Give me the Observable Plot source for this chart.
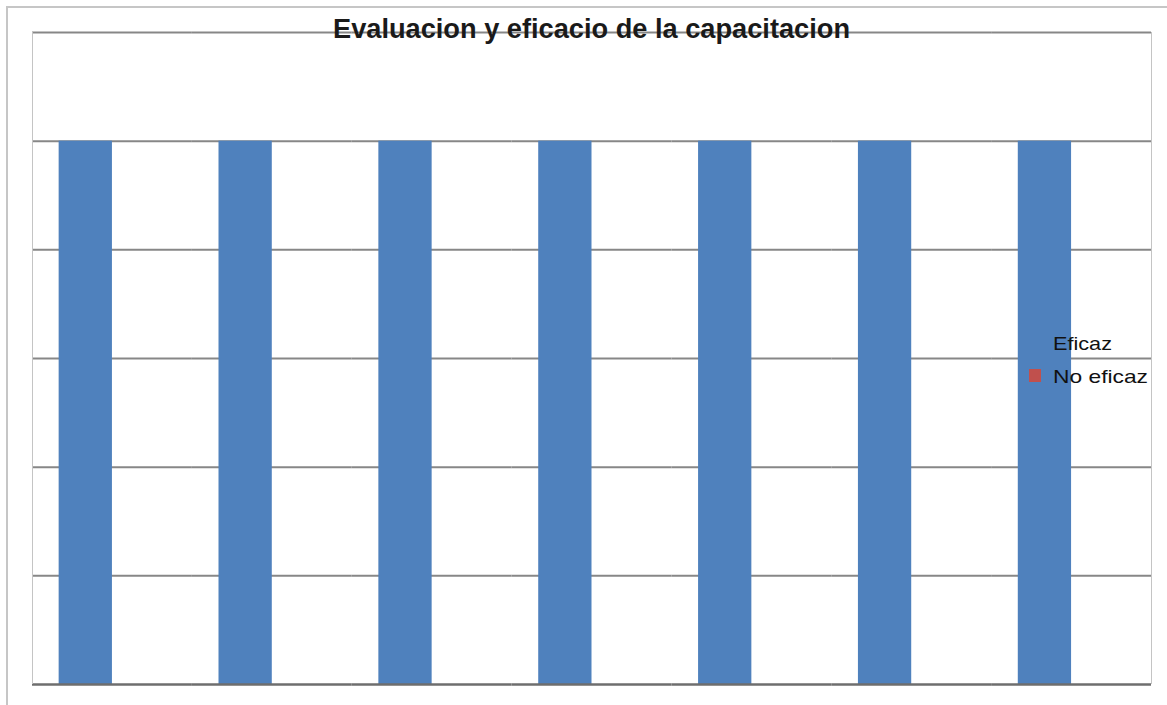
<!DOCTYPE html>
<html><head><meta charset="utf-8">
<script src="https://cdn.jsdelivr.net/npm/d3@7"></script>
<script src="https://cdn.jsdelivr.net/npm/@observablehq/plot@0.6"></script>
<style>
html,body{margin:0;padding:0;background:#fff;overflow:hidden}
#wrap{position:relative;width:1167px;height:705px}
#border{position:absolute;left:6px;top:6px;right:0;bottom:0;border-left:2px solid #c6c6c6;border-top:2px solid #c6c6c6}
#chart{position:absolute;left:0;top:0}
#frame{position:absolute;left:32px;top:32px;width:1118px;height:652px;border-left:1px solid #c4c4c4;border-right:1px solid #c4c4c4}
#overlay{position:absolute;left:0;top:0}
</style></head>
<body>
<div id="wrap">
  <div id="border"></div>
  <div id="chart"></div>
  <div id="frame"></div>
  <svg id="overlay" width="1167" height="705"></svg>
</div>
<script>
const categories = ["1","2","3","4","5","6","7"];
const series = ["Eficaz","No eficaz"];
const eficaz = [1,1,1,1,1,1,1];
const noEficaz = [0,0,0,0,0,0,0];
const yTicks = [0,0.2,0.4,0.6,0.8,1.0,1.2];
const colors = ["#4F81BD","#C0504D"];
const title = "Evaluacion y eficacio de la capacitacion";

const data = categories.flatMap((c,i)=>[
  {cat:c, serie:series[0], value:eficaz[i]},
  {cat:c, serie:series[1], value:noEficaz[i]}
]);

const chart = Plot.plot({
  width:1167, height:705,
  marginLeft:32, marginRight:16, marginTop:32, marginBottom:21,
  style:{background:"transparent", overflow:"visible"},
  fx:{domain:categories, padding:0, round:false, axis:null},
  x:{domain:series, paddingInner:0, paddingOuter:0.5, round:false, axis:null},
  y:{domain:[0,1.2], axis:null},
  color:{domain:series, range:colors},
  marks:[
    Plot.ruleY(yTicks.slice(1), {stroke:"#878787", strokeWidth:2}),
    Plot.barY(data, {fx:"cat", x:"serie", y:"value", fill:"serie"}),
    Plot.ruleY([0], {stroke:"#6e6e6e", strokeWidth:2.5})
  ]
});
document.getElementById("chart").appendChild(chart);

const ov = d3.select("#overlay");
const font = "'Liberation Sans', Arial, sans-serif";
ov.append("text")
  .attr("x", 591.5).attr("y", 38)
  .attr("text-anchor","middle")
  .attr("font-family", font).attr("font-weight","bold").attr("font-size", 27)
  .attr("textLength", 517).attr("lengthAdjust","spacingAndGlyphs")
  .attr("fill","#1a1a1a")
  .text(title);

const leg = [
  {label:series[0], color:colors[0], y:337, ty:350, len:59},
  {label:series[1], color:colors[1], y:369, ty:383, len:95}
];
leg.forEach(d=>{
  ov.append("rect").attr("x",1029).attr("y",d.y).attr("width",12).attr("height",13).attr("fill",d.color);
  ov.append("text").attr("x",1053).attr("y",d.ty)
    .attr("font-family", font).attr("font-size", 19)
    .attr("textLength", d.len).attr("lengthAdjust","spacingAndGlyphs")
    .attr("fill","#111").text(d.label);
});
</script>
</body></html>
